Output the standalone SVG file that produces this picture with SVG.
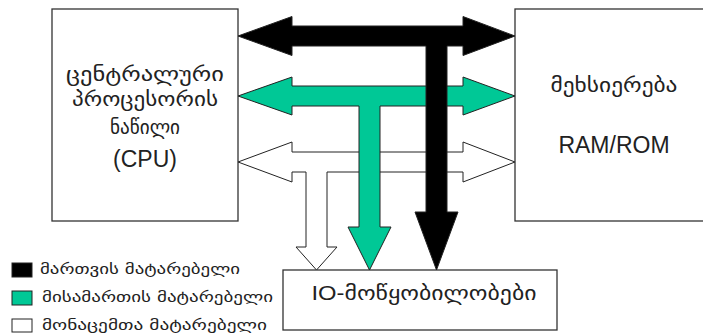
<svg xmlns="http://www.w3.org/2000/svg" width="703" height="334" viewBox="0 0 703 334">
  <style>
    .box { fill: #ffffff; stroke: #333333; stroke-width: 1.3; }
    .bus { stroke: #222222; stroke-width: 1; stroke-linejoin: miter; }
    .ctrl { fill: #000000; }
    .addr { fill: #00c896; }
    .data { fill: #ffffff; }
    .ka { font-family: "DejaVu Sans", "Noto Sans", sans-serif; fill: #222222; }
    .lat { font-family: "Liberation Sans", "DejaVu Sans", sans-serif; fill: #222222; }
    .big { font-size: 19px; text-anchor: middle; }
    .leg { font-size: 15px; }
  </style>

  <!-- Central processing unit -->
  <g id="cpu">
    <rect class="box" x="52" y="9" width="186" height="212"/>
    <text class="ka big" x="145" y="81" textLength="158" lengthAdjust="spacingAndGlyphs">ცენტრალური</text>
    <text class="ka big" x="145" y="106" textLength="146" lengthAdjust="spacingAndGlyphs">პროცესორის</text>
    <text class="ka big" x="145" y="134" textLength="70" lengthAdjust="spacingAndGlyphs">ნაწილი</text>
    <text class="lat big" x="145" y="167" style="font-size:23px">(CPU)</text>
  </g>

  <!-- Memory -->
  <g id="memory">
    <rect class="box" x="515" y="9" width="200" height="212"/>
    <text class="ka big" x="614" y="92" textLength="127" lengthAdjust="spacingAndGlyphs">მეხსიერება</text>
    <text class="lat big" x="614" y="153" style="font-size:23px">RAM/ROM</text>
  </g>

  <!-- Input/output devices -->
  <g id="io">
    <rect class="box" x="283" y="270" width="274" height="60"/>
    <text class="lat" x="424" y="300" style="font-size:20px; text-anchor:middle" textLength="225" lengthAdjust="spacingAndGlyphs">IO-მოწყობილობები</text>
  </g>

  <!-- Buses: data (back), address, control (front) -->
  <g id="buses">
    <polygon class="bus data" points="238,162 292,142 292,152 463,152 463,142 515,162 463,182 463,172 327,172 327,247 337,247 316.5,270 296,247 306,247 306,172 292,172 292,182"/>
    <polygon class="bus addr" points="238,96 292,77 292,86 463,86 463,77 515,96 463,115 463,106 380,106 380,227 391,227 369.5,270 348,227 359,227 359,106 292,106 292,115"/>
    <polygon class="bus ctrl" points="238,36 292,16.5 292,26 463,26 463,16.5 515,36 463,55.5 463,46 447,46 447,212 458,212 436.5,270 415,212 426,212 426,46 292,46 292,55.5"/>
  </g>

  <!-- Legend -->
  <g id="legend">
    <rect class="bus ctrl" x="12" y="263" width="20" height="14"/>
    <text class="ka leg" x="40" y="274" textLength="200" lengthAdjust="spacingAndGlyphs">მართვის მატარებელი</text>
    <rect class="bus addr" x="12" y="291" width="20" height="14"/>
    <text class="ka leg" x="42" y="302" textLength="231" lengthAdjust="spacingAndGlyphs">მისამართის მატარებელი</text>
    <rect class="bus data" x="12" y="319" width="20" height="13"/>
    <text class="ka leg" x="42" y="330" textLength="225" lengthAdjust="spacingAndGlyphs">მონაცემთა მატარებელი</text>
  </g>
</svg>
